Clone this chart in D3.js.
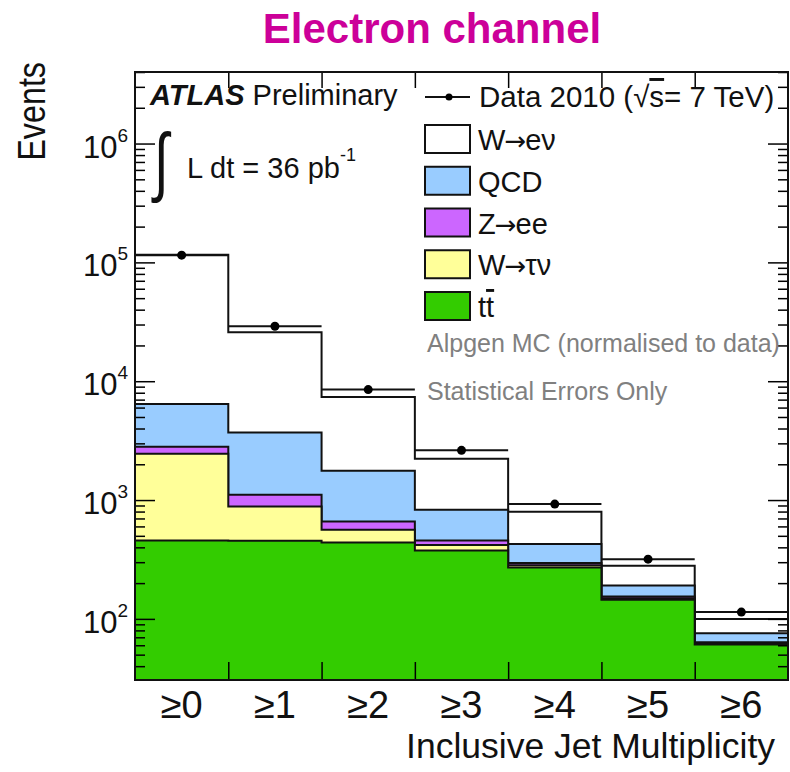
<!DOCTYPE html>
<html>
<head>
<meta charset="utf-8">
<script src="https://cdn.jsdelivr.net/npm/d3@7"></script>
<style>
  body { margin: 0; background: #fff; }
  text { font-family: "Liberation Sans", Arial, sans-serif; }
</style>
</head>
<body>
<div id="chart"></div>
<script>
// inclusive jet bins
let bins = ["≥0", "≥1", "≥2", "≥3", "≥4", "≥5", "≥6"];

// data points (events)
let data2010 = [115000, 29000, 8500, 2620, 925, 318, 114];

// MC samples, stacked bottom -> top
let ttbar  = [457, 455, 440, 376, 271, 145, 61];
let wtaunu = [1998, 428, 122, 42, 12, 4, 1.3];
let zee    = [355, 226, 98, 39, 13, 5, 1.3];
let qcd    = [3630, 2601, 1105, 371, 130, 37, 12.2];
let wenu   = [109560, 22090, 5615, 1402, 371, 89, 24.2];

let yTickLabels = [2, 3, 4, 5, 6];   // exponents of 10

let W = 790, H = 772;
let pLeft = 135, pRight = 788, pTop = 72, pBottom = 680;

let svg = d3.select("#chart").append("svg")
  .attr("width", W)
  .attr("height", H);

svg.append("rect").attr("width", W).attr("height", H).attr("fill", "#fff");

let x = d3.scaleLinear().domain([0, 7]).range([pLeft, pRight]);
let y = d3.scaleLog().domain([30.6, 4.0e6]).range([pBottom, pTop]);

// stack, order: tt, W->tau nu, Z->ee, QCD, W->e nu
let samples = [
  {name: "ttbar", vals: ttbar, color: "#33cc00"},
  {name: "wtaunu", vals: wtaunu, color: "#ffff99"},
  {name: "zee", vals: zee, color: "#cc66ff"},
  {name: "qcd", vals: qcd, color: "#99ccff"},
  {name: "wenu", vals: wenu, color: "#ffffff"}
];
let running = bins.map(() => 0);
samples.forEach(s => {
  running = running.map((r, i) => r + s.vals[i]);
  s.cum = running.slice();
});

function stepPts(vals) {
  let pts = [];
  vals.forEach((v, i) => {
    pts.push([i, v]);
    pts.push([i + 1, v]);
  });
  return pts;
}

let area = d3.area()
  .x(d => x(d[0]))
  .y0(pBottom)
  .y1(d => y(d[1]));
let line = d3.line()
  .x(d => x(d[0]))
  .y(d => y(d[1]));

let plot = svg.append("g");

// draw tallest first
samples.slice().reverse().forEach(s => {
  let pts = stepPts(s.cum);
  plot.append("path")
    .attr("d", area(pts))
    .attr("fill", s.color);
  plot.append("path")
    .attr("d", line(pts))
    .attr("fill", "none")
    .attr("stroke", "#111")
    .attr("stroke-width", 2);
});

// data: horizontal bars + markers
let dataG = svg.append("g");
dataG.selectAll("line")
  .data(data2010)
  .enter()
  .append("line")
  .attr("x1", (d, i) => x(i))
  .attr("x2", (d, i) => x(i + 1))
  .attr("y1", d => y(d))
  .attr("y2", d => y(d))
  .attr("stroke", "#111")
  .attr("stroke-width", 2);
dataG.selectAll("circle")
  .data(data2010)
  .enter()
  .append("circle")
  .attr("cx", (d, i) => x(i + 0.5))
  .attr("cy", d => y(d))
  .attr("r", 4.5)
  .attr("fill", "#000");

// axes ticks (inward)
let yTicks = [];
for (let e = 1; e <= 6; e++) {
  for (let k = 1; k <= 9; k++) {
    let v = k * Math.pow(10, e);
    if (v >= 30.6 && v <= 4.0e6) yTicks.push(v);
  }
}
let isMajor = v => Math.abs(Math.log10(v) - Math.round(Math.log10(v))) < 1e-9;

let axL = svg.append("g").attr("transform", `translate(${pLeft},0)`)
  .call(d3.axisLeft(y).tickValues(yTicks).tickFormat("").tickSizeOuter(0));
axL.selectAll(".tick line").attr("x2", d => isMajor(d) ? 20 : 10).attr("stroke-width", 1.5);
axL.select(".domain").remove();

let axR = svg.append("g").attr("transform", `translate(${pRight},0)`)
  .call(d3.axisRight(y).tickValues(yTicks).tickFormat("").tickSizeOuter(0));
axR.selectAll(".tick line").attr("x2", d => isMajor(d) ? -20 : -10).attr("stroke-width", 1.5);
axR.select(".domain").remove();

let axB = svg.append("g").attr("transform", `translate(0,${pBottom})`)
  .call(d3.axisBottom(x).tickValues([1, 2, 3, 4, 5, 6]).tickFormat("").tickSize(-18).tickSizeOuter(0));
axB.selectAll(".tick line").attr("stroke-width", 1.5);
axB.select(".domain").remove();

let axT = svg.append("g").attr("transform", `translate(0,${pTop})`)
  .call(d3.axisTop(x).tickValues([1, 2, 3, 4, 5, 6]).tickFormat("").tickSize(-16).tickSizeOuter(0));
axT.selectAll(".tick line").attr("stroke-width", 1.5);
axT.select(".domain").remove();

// frame
svg.append("rect")
  .attr("x", pLeft).attr("y", pTop)
  .attr("width", pRight - pLeft).attr("height", pBottom - pTop)
  .attr("fill", "none").attr("stroke", "#111").attr("stroke-width", 2);

// y tick labels 10^n
yTickLabels.forEach(e => {
  let t = svg.append("text")
    .attr("x", 128)
    .attr("y", y(Math.pow(10, e)) + 14)
    .attr("text-anchor", "end")
    .attr("fill", "#111");
  t.append("tspan").attr("font-size", 31).text("10");
  t.append("tspan").attr("font-size", 19).attr("dy", -16).text(e);
});

// x tick labels
svg.selectAll(".xlab")
  .data(bins)
  .enter()
  .append("text")
  .attr("class", "xlab")
  .attr("x", (d, i) => x(i + 0.5))
  .attr("y", 718)
  .attr("text-anchor", "middle")
  .attr("font-size", 38)
  .attr("fill", "#111")
  .text(d => d);

// axis titles
svg.append("text")
  .attr("x", 775).attr("y", 758)
  .attr("text-anchor", "end")
  .attr("font-size", 35.5)
  .attr("fill", "#111")
  .text("Inclusive Jet Multiplicity");

svg.append("text")
  .attr("transform", "translate(45,62) rotate(-90) scale(0.85,1)")
  .attr("text-anchor", "end")
  .attr("font-size", 38)
  .attr("fill", "#111")
  .text("Events");

// title
svg.append("text")
  .attr("x", 432).attr("y", 43)
  .attr("text-anchor", "middle")
  .attr("font-size", 42)
  .attr("font-weight", "bold")
  .attr("fill", "#cc0099")
  .text("Electron channel");

// ATLAS label
let atl = svg.append("text").attr("x", 150).attr("y", 105).attr("font-size", 29).attr("fill", "#111");
atl.append("tspan").attr("font-weight", "bold").attr("font-style", "italic").text("ATLAS");
atl.append("tspan").text(" Preliminary");

// luminosity
svg.append("text")
  .attr("transform", "translate(154,187) scale(0.7,1)")
  .attr("font-size", 76)
  .attr("font-family", "DejaVu Sans")
  .attr("fill", "#111")
  .text("∫");
let lum = svg.append("text").attr("x", 187).attr("y", 178).attr("font-size", 29).attr("fill", "#111");
lum.append("tspan").text("L dt = 36 pb");
lum.append("tspan").attr("font-size", 18).attr("dy", -17).text("-1");

// legend: data
svg.append("line").attr("x1", 425).attr("x2", 470).attr("y1", 97).attr("y2", 97)
  .attr("stroke", "#111").attr("stroke-width", 2);
svg.append("circle").attr("cx", 449).attr("cy", 97).attr("r", 3.5).attr("fill", "#000");
let dl = svg.append("text").attr("x", 479).attr("y", 107).attr("font-size", 29.5).attr("fill", "#111");
dl.append("tspan").text("Data 2010 (√");
dl.append("tspan").attr("text-decoration", "overline").text("s");
dl.append("tspan").text("= 7 TeV)");

// legend boxes
let legendItems = [
  {label: ["W", "→", "eν"], color: "#ffffff"},
  {label: ["QCD"], color: "#99ccff"},
  {label: ["Z", "→", "ee"], color: "#cc66ff"},
  {label: ["W", "→", "τν"], color: "#ffff99"},
  {label: ["tt"], color: "#33cc00"}
];
let leg = svg.append("g");
legendItems.forEach((it, i) => {
  let yy = 125 + i * 41.75;
  leg.append("rect")
    .attr("x", 425).attr("y", yy)
    .attr("width", 45).attr("height", 28)
    .attr("fill", it.color)
    .attr("stroke", "#111").attr("stroke-width", 2);
  let t = leg.append("text")
    .attr("x", 478).attr("y", yy + 25)
    .attr("font-size", 29)
    .attr("fill", "#111");
  if (it.label[0] === "tt") {
    t.append("tspan").text("t");
    t.append("tspan").attr("text-decoration", "overline").text("t");
  } else if (it.label.length === 3) {
    t.append("tspan").text(it.label[0]);
    t.append("tspan").attr("font-family", "DejaVu Sans").attr("font-size", 26)
      .attr("dx", -1).text(it.label[1]);
    t.append("tspan").attr("dx", -1).text(it.label[2]);
  } else {
    t.text(it.label[0]);
  }
});

svg.append("text").attr("x", 427).attr("y", 352).attr("font-size", 25).attr("fill", "#808080")
  .text("Alpgen MC (normalised to data)");
svg.append("text").attr("x", 427).attr("y", 400).attr("font-size", 25).attr("fill", "#808080")
  .text("Statistical Errors Only");
</script>
</body>
</html>
